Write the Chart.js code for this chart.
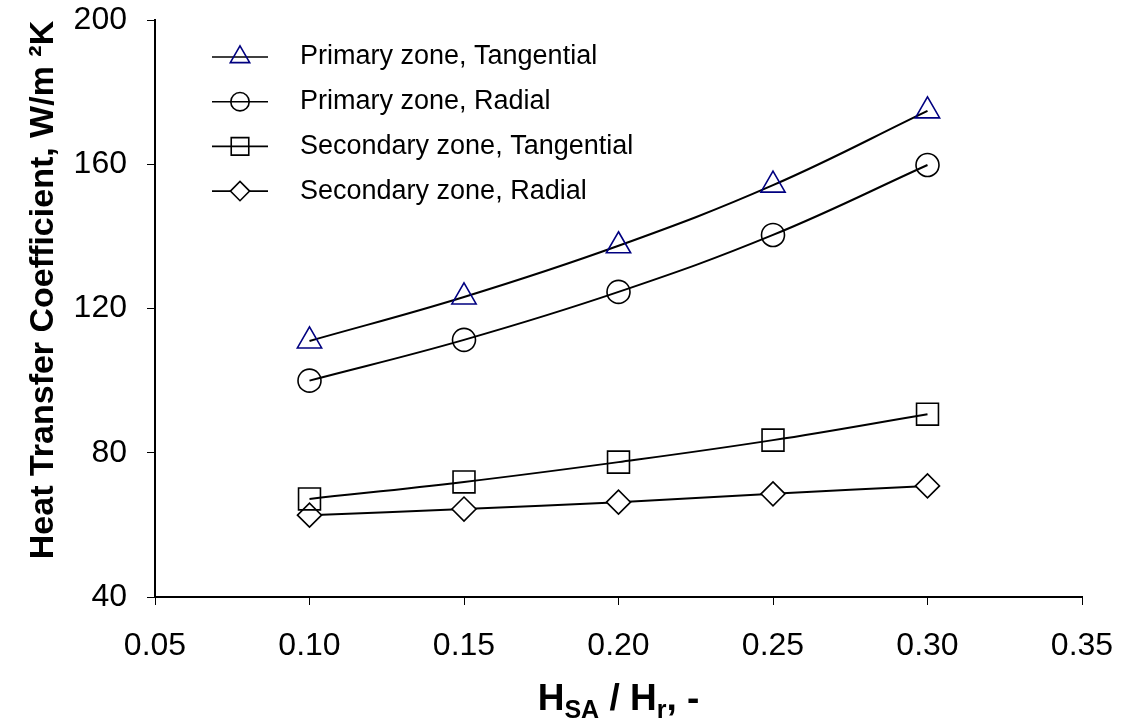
<!DOCTYPE html>
<html>
<head>
<meta charset="utf-8">
<script src="https://cdn.jsdelivr.net/npm/chart.js@4"></script>
<style>
  html, body { margin: 0; padding: 0; background: #fff; }
  #wrap { width: 1125px; height: 727px; }
</style>
</head>
<body>
<div id="wrap"><canvas id="c" width="1125" height="727"></canvas></div>
<script>
const ratio = [0.10, 0.15, 0.20, 0.25, 0.30];
const primaryTangential = [111, 123.2, 137.4, 154.2, 174.8];
const primaryRadial = [100, 111.3, 124.6, 140.4, 159.8];
const secondaryTangential = [67.2, 71.9, 77.4, 83.5, 90.7];
const secondaryRadial = [62.7, 64.4, 66.3, 68.6, 70.8];
const seriesNames = [
  "Primary zone, Tangential",
  "Primary zone, Radial",
  "Secondary zone, Tangential",
  "Secondary zone, Radial",
];

const FONT = "Arial, 'Liberation Sans', Helvetica, sans-serif";

const toPts = (ys) => ratio.map((x, i) => ({ x: x, y: ys[i] }));

const mk = (label, ys, style, radius, markerColor, fill) => ({
  label: label,
  data: toPts(ys),
  borderColor: "#000",
  borderWidth: 2,
  tension: 0.4,
  pointStyle: style,
  pointRadius: radius,
  pointBorderColor: markerColor,
  pointBackgroundColor: fill,
  pointBorderWidth: 1.6,
});

// legend with a line through the marker, and the axis titles
const extras = {
  id: "extras",
  afterDraw(chart) {
    const ctx = chart.ctx;
    const area = chart.chartArea;
    ctx.save();

    // legend
    chart.data.datasets.forEach((ds, i) => {
      const y = 57 + i * 44.7;
      ctx.strokeStyle = "#000";
      ctx.lineWidth = 1.6;
      ctx.beginPath();
      ctx.moveTo(212, y);
      ctx.lineTo(268, y);
      ctx.stroke();
      ctx.strokeStyle = ds.pointBorderColor;
      ctx.fillStyle = ds.pointBackgroundColor;
      ctx.lineWidth = ds.pointBorderWidth;
      Chart.helpers.drawPoint(ctx, {
        pointStyle: ds.pointStyle,
        radius: ds.pointRadius * 0.8,
        rotation: 0,
        borderWidth: ds.pointBorderWidth,
      }, 240, y);
      ctx.fillStyle = "#000";
      ctx.font = "27px " + FONT;
      ctx.textAlign = "left";
      ctx.textBaseline = "middle";
      ctx.fillText(ds.label, 300, y);
    });

    // y title
    ctx.fillStyle = "#000";
    ctx.save();
    ctx.translate(44, 290);
    ctx.rotate(-Math.PI / 2);
    ctx.font = "bold 34px " + FONT;
    ctx.textAlign = "center";
    ctx.textBaseline = "middle";
    ctx.fillText("Heat Transfer Coefficient, W/m \u00B2K", 0, 0);
    ctx.restore();

    // x title with subscripts
    const parts = [
      ["H", 0, 37], ["SA", 8, 25], [" / H", 0, 37], ["r", 8, 25], [", -", 0, 37],
    ];
    let w = 0;
    parts.forEach((p) => {
      ctx.font = "bold " + p[2] + "px " + FONT;
      w += ctx.measureText(p[0]).width;
    });
    let x = (area.left + area.right) / 2 - w / 2;
    const base = 710;
    ctx.textAlign = "left";
    ctx.textBaseline = "alphabetic";
    parts.forEach((p) => {
      ctx.font = "bold " + p[2] + "px " + FONT;
      ctx.fillText(p[0], x, base + p[1]);
      x += ctx.measureText(p[0]).width;
    });
    ctx.restore();
  },
};

const noPad = (scale) => {
  scale.paddingTop = 0;
  scale.paddingBottom = 0;
  scale.paddingLeft = 0;
  scale.paddingRight = 0;
};

new Chart(document.getElementById("c"), {
  type: "line",
  data: {
    datasets: [
      mk(seriesNames[0], primaryTangential, "triangle", 14, "#000080", "rgba(0,0,0,0)"),
      mk(seriesNames[1], primaryRadial, "circle", 11.5, "#000", "rgba(0,0,0,0)"),
      mk(seriesNames[2], secondaryTangential, "rect", 15.5, "#000", "rgba(0,0,0,0)"),
      mk(seriesNames[3], secondaryRadial, "rectRot", 12, "#000", "#fff"),
    ],
  },
  plugins: [extras],
  options: {
    responsive: false,
    animation: false,
    events: [],
    layout: { autoPadding: false, padding: { top: 20, right: 43, left: 0, bottom: 0 } },
    plugins: {
      legend: { display: false },
      tooltip: { enabled: false },
    },
    scales: {
      x: {
        type: "linear",
        min: 0.05,
        max: 0.35,
        afterFit(scale) { scale.height = 130; noPad(scale); },
        ticks: {
          stepSize: 0.05,
          color: "#000",
          font: { size: 32, family: FONT },
          padding: 22,
          callback: (v) => v.toFixed(2),
        },
        grid: { drawOnChartArea: false, drawTicks: true, tickLength: 8, tickColor: "#000", tickWidth: 1 },
        border: { color: "#000", width: 2 },
      },
      y: {
        min: 40,
        max: 200,
        afterFit(scale) { scale.width = 155; noPad(scale); },
        ticks: {
          stepSize: 40,
          color: "#000",
          font: { size: 32, family: FONT },
          padding: 20,
        },
        grid: { drawOnChartArea: false, drawTicks: true, tickLength: 8, tickColor: "#000", tickWidth: 1 },
        border: { color: "#000", width: 2 },
      },
    },
  },
});
</script>
</body>
</html>
